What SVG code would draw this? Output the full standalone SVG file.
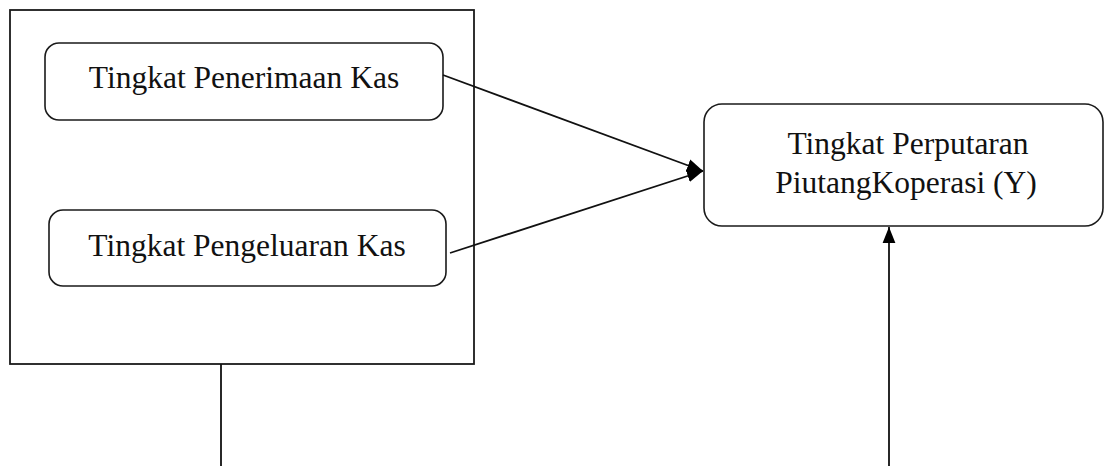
<svg xmlns="http://www.w3.org/2000/svg" width="1105" height="466" viewBox="0 0 1105 466">
<style>
.box{fill:#fff;stroke:#1a1a1a;stroke-width:1.6}
.frame{fill:none;stroke:#1a1a1a;stroke-width:1.8}
.t{font-family:"Liberation Serif","Times New Roman",serif;font-size:31.5px;fill:#111;text-anchor:middle}
.c{fill:none;stroke:#111;stroke-width:1.8}
</style>
<defs>
<marker id="ah2" viewBox="0 0 10 10" refX="10" refY="5" markerWidth="16" markerHeight="16" orient="auto" markerUnits="userSpaceOnUse">
<path d="M0,1 L10,5 L0,9 z" fill="#000"/>
</marker>
</defs>
<rect width="1105" height="466" fill="#fff"/>
<g id="group-x">
<rect class="frame" x="10" y="10" width="464" height="354"/>
</g>
<g id="node-penerimaan">
<rect class="box" x="45" y="43" width="398" height="77" rx="14"/>
<text class="t" x="244" y="88">Tingkat Penerimaan Kas</text>
</g>
<g id="node-pengeluaran">
<rect class="box" x="49" y="210" width="397" height="76" rx="14"/>
<text class="t" x="247" y="256">Tingkat Pengeluaran Kas</text>
</g>
<g id="node-y">
<rect class="box" x="704" y="104" width="399" height="122" rx="18"/>
<text class="t" x="908" y="154">Tingkat Perputaran</text>
<text class="t" x="906" y="193">PiutangKoperasi (Y)</text>
</g>
<g id="connectors">
<line class="c" x1="443" y1="75" x2="703" y2="171" marker-end="url(#ah2)"/>
<line class="c" x1="450" y1="253" x2="703" y2="171" marker-end="url(#ah2)"/>
<line class="c" x1="221" y1="364" x2="221" y2="466"/>
<line class="c" x1="889" y1="466" x2="889" y2="227" marker-end="url(#ah2)"/>
</g>
</svg>
